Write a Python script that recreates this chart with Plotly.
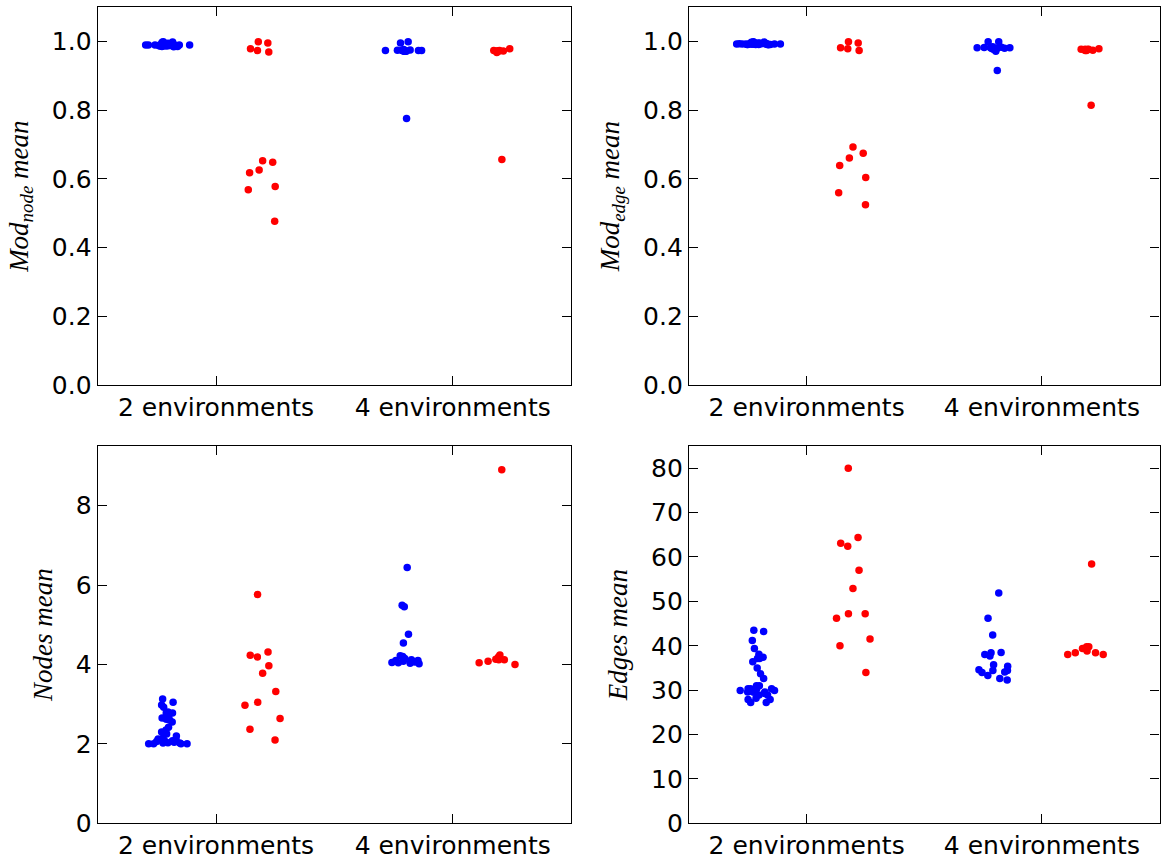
import plotly.graph_objects as go
from plotly.subplots import make_subplots

categories = ["2 environments", "4 environments"]
blue = "#0000ff"
red = "#ff0000"

mod_node_blue_2env = [0.988, 0.990, 0.987, 0.989, 0.990, 0.986, 0.990, 0.992, 0.995, 0.999, 0.993, 0.990,
                      0.989, 0.991, 0.988, 0.990, 0.987, 0.990, 0.992, 0.989, 0.991, 0.990, 0.988, 0.985,
                      0.990, 0.993, 0.996, 1.000, 0.998, 0.990, 0.986, 0.989]
mod_node_red_2env = [0.970, 0.578, 0.649, 0.996, 0.626, 0.653, 1.000, 0.618, 0.979, 0.569, 0.477, 0.974]
mod_node_blue_4env = [0.974, 0.972, 0.975, 1.000, 0.973, 0.974, 0.972, 0.976, 0.974, 0.973, 0.977, 0.974,
                      0.972, 0.975, 0.974, 0.996, 0.776]
mod_node_red_4env = [0.657, 0.973, 0.973, 0.974, 0.979, 0.973, 0.968, 0.973, 0.974]

mod_edge_blue_2env = [0.993, 0.992, 0.994, 0.993, 0.992, 0.995, 0.993, 0.994, 0.998, 0.993, 0.992, 0.994,
                      0.993, 0.995, 0.992, 0.993, 0.994, 0.996, 0.993, 0.992, 0.994, 0.993, 0.991, 0.993,
                      0.995, 0.994, 0.998, 1.000, 0.999, 0.993, 0.992, 0.994]
mod_edge_red_2env = [0.974, 0.604, 0.693, 0.996, 0.661, 0.639, 1.000, 0.675, 0.982, 0.560, 0.525, 0.979]
mod_edge_blue_4env = [0.982, 0.980, 0.972, 1.000, 0.981, 0.978, 0.983, 0.982, 0.984, 0.981, 0.982, 0.985,
                      0.983, 0.981, 0.982, 1.000, 0.916]
mod_edge_red_4env = [0.815, 0.974, 0.978, 0.978, 0.978, 0.977, 0.974, 0.975, 0.979]

nodes_blue_2env = [2.02, 2.05, 2.08, 2.00, 2.10, 2.03, 2.00, 2.12, 2.06, 2.00, 2.04, 2.00, 2.15, 2.08,
                   2.02, 2.25, 2.30, 2.20, 2.42, 2.60, 2.65, 2.70, 2.62, 2.78, 2.80, 2.78, 2.55, 2.92,
                   2.98, 3.05, 3.13, 2.35]
nodes_red_2env = [3.05, 4.23, 2.97, 5.76, 4.19, 3.97, 2.37, 3.32, 2.10, 3.78, 4.31, 2.64]
nodes_blue_4env = [4.54, 4.76, 5.45, 4.12, 4.08, 4.20, 4.10, 4.05, 4.15, 4.03, 4.02, 4.22, 4.10, 4.06,
                   4.04, 6.44, 5.49]
nodes_red_4env = [8.90, 4.12, 4.12, 4.04, 4.24, 4.08, 4.00, 4.13, 4.19]

edges_blue_2env = [27.9, 29.6, 29.3, 27.2, 30.3, 28.9, 27.9, 35.0, 39.4, 43.5, 41.2, 37.1, 37.1, 32.6,
                   29.9, 30.3, 43.2, 28.9, 37.4, 28.2, 27.2, 31.0, 36.4, 31.0, 30.3, 38.1, 33.7, 29.9,
                   30.3, 29.6, 29.6, 29.6]
edges_red_2env = [47.2, 63.1, 46.2, 80.0, 64.4, 57.0, 40.0, 47.2, 34.0, 52.9, 62.4, 41.5]
edges_blue_4env = [37.7, 38.0, 38.5, 42.4, 38.4, 35.4, 34.0, 32.3, 34.4, 34.1, 34.4, 35.7, 34.6, 32.6,
                   33.3, 51.9, 46.2]
edges_red_4env = [58.4, 38.4, 39.8, 38.8, 39.8, 38.4, 38.0, 38.0, 39.4]

mod_ticks = [0, 0.2, 0.4, 0.6, 0.8, 1.0]
nodes_ticks = [0, 2, 4, 6, 8]
edges_ticks = [0, 10, 20, 30, 40, 50, 60, 70, 80]

panels = [
    (1, 1, mod_node_blue_2env, mod_node_blue_4env, mod_node_red_2env, mod_node_red_4env,
     "<i>Mod<sub>node</sub> mean</i>", [0, 1.1], mod_ticks),
    (1, 2, mod_edge_blue_2env, mod_edge_blue_4env, mod_edge_red_2env, mod_edge_red_4env,
     "<i>Mod<sub>edge</sub> mean</i>", [0, 1.1], mod_ticks),
    (2, 1, nodes_blue_2env, nodes_blue_4env, nodes_red_2env, nodes_red_4env,
     "<i>Nodes mean</i>", [0, 9.5], nodes_ticks),
    (2, 2, edges_blue_2env, edges_blue_4env, edges_red_2env, edges_red_4env,
     "<i>Edges mean</i>", [0, 85], edges_ticks),
]

fig = make_subplots(rows=2, cols=2)

for (r, c, b2, b4, r2, r4, title, yr, tv) in panels:
    for vals2, vals4, col, grp in [(b2, b4, blue, "blue"), (r2, r4, red, "red")]:
        fig.add_trace(go.Box(
            x=[categories[0]] * len(vals2) + [categories[1]] * len(vals4),
            y=vals2 + vals4,
            boxpoints="all", jitter=0.5, pointpos=0,
            marker=dict(color=col, size=7.5, line=dict(width=0)),
            line=dict(width=0, color="rgba(0,0,0,0)"),
            fillcolor="rgba(0,0,0,0)",
            offsetgroup=grp, showlegend=False, hoveron="points",
        ), row=r, col=c)
    if yr[1] < 2:
        tt = ["%.1f" % v for v in tv]
    else:
        tt = [str(v) for v in tv]
    fig.update_yaxes(range=yr, tickvals=tv, ticktext=tt, row=r, col=c,
                     title=dict(text=title, font=dict(family="Liberation Serif", size=27, color="black")))

fig.update_xaxes(type="category", categoryorder="array", categoryarray=categories,
                 range=[-0.5, 1.5])

axis_common = dict(showline=True, mirror="ticks", linecolor="black", linewidth=1.3,
                   ticks="inside", ticklen=9, tickwidth=1.1, tickcolor="black",
                   showgrid=False, zeroline=False, automargin=False,
                   tickfont=dict(family="DejaVu Sans", size=25, color="black"))
fig.update_xaxes(**axis_common)
fig.update_yaxes(**axis_common)

xd_left = [97.7 / 1161, 571 / 1161]
xd_right = [689 / 1161, 1159.5 / 1161]
yd_top = [1 - 385 / 861, 1 - 7.3 / 861]
yd_bot = [1 - 823.3 / 861, 1 - 446 / 861]

fig.update_layout(
    width=1161, height=861,
    margin=dict(l=0, r=0, t=0, b=0),
    paper_bgcolor="white", plot_bgcolor="white",
    boxmode="group", boxgap=0.2, boxgroupgap=0,
    xaxis=dict(domain=xd_left), yaxis=dict(domain=yd_top),
    xaxis2=dict(domain=xd_right), yaxis2=dict(domain=yd_top),
    xaxis3=dict(domain=xd_left), yaxis3=dict(domain=yd_bot),
    xaxis4=dict(domain=xd_right), yaxis4=dict(domain=yd_bot),
)

fig.write_html("out.html")
